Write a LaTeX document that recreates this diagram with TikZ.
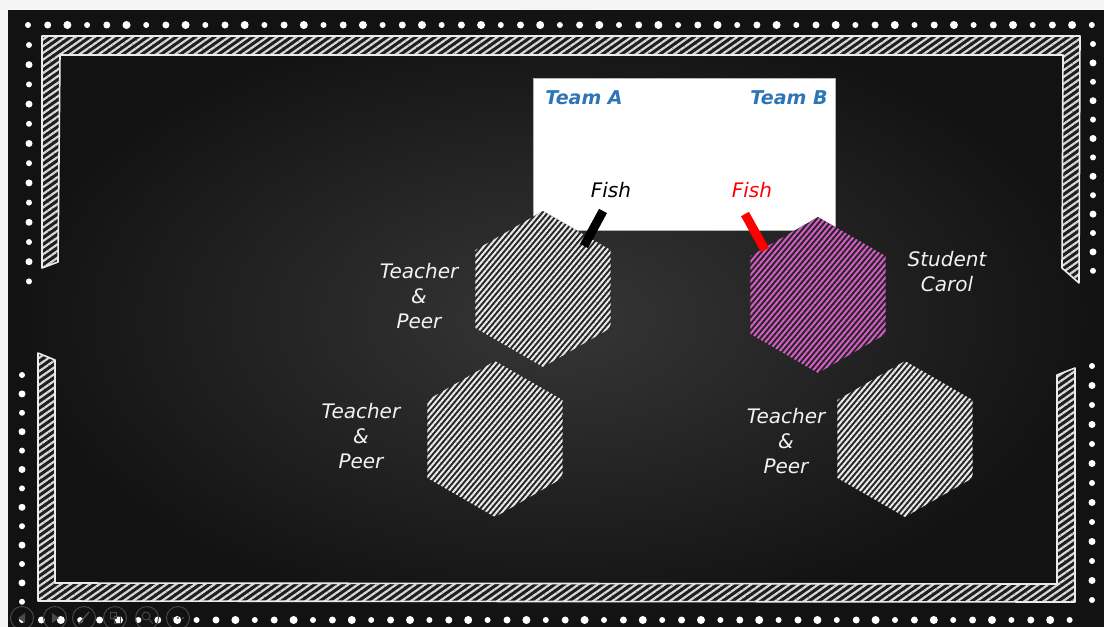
\documentclass[tikz,border=0pt]{standalone}
\usepackage{fontspec}
\setmainfont{DejaVu Sans}
\usetikzlibrary{shapes.geometric,patterns.meta}
\definecolor{teamblue}{HTML}{2E75B6}
\definecolor{hexpink}{HTML}{D85CC8}
\definecolor{hexbg}{HTML}{262626}
\definecolor{bgout}{HTML}{121212}
\definecolor{bgin}{HTML}{363636}
\definecolor{iconcol}{HTML}{4A4A4A}
\tikzset{
  chalk/.style={draw=white!92!black, line width=1.6pt, line join=round,
    preaction={fill=black!88},
    pattern={Lines[angle=35,distance=5.5pt,line width=2.2pt]}, pattern color=white!85!black},
  hexa/.style={regular polygon, regular polygon sides=6, shape border rotate=30,
    minimum size=156pt, inner sep=0pt,
    preaction={fill=hexbg},
    pattern={Lines[angle=50,distance=4.2pt,line width=2pt]}, pattern color=white!92!black},
  hexp/.style={hexa, pattern color=hexpink},
  lbl/.style={text=white!95!black, font=\itshape\fontsize{20}{25}\selectfont, align=center, inner sep=0pt},
  team/.style={text=teamblue, font=\bfseries\itshape\fontsize{19}{20}\selectfont, inner sep=0pt},
  fishlbl/.style={font=\itshape\fontsize{20}{22}\selectfont, inner sep=0pt},
  barstyle/.style={line width=9pt},
  dotstyle/.style={fill=white, draw=none},
  iconring/.style={draw=iconcol, line width=0.9pt, circle, minimum size=23pt, inner sep=0pt}
}
\begin{document}
\begin{tikzpicture}[x=1pt,y=-1pt]
\useasboundingbox (0,0) rectangle (1104,627);
% outer light strips
\fill[white!96!black] (0,0) rectangle (1104,627);
% chalkboard
\shade[inner color=bgin, outer color=bgout] (8,10) rectangle (1104,627);
% dots
\foreach \i in {0,...,54} {
  \pgfmathsetmacro{\r}{3.0+0.5*mod(\i,3)}
  \fill[dotstyle] (28+19.7*\i,25) circle (\r pt);
  \fill[dotstyle] (22+19.4*\i,620) circle (\r pt);
}
\foreach \i in {0,...,12} {
  \pgfmathsetmacro{\r}{3.0+0.5*mod(\i,2)}
  \fill[dotstyle] (29,45+19.7*\i) circle (\r pt);
  \fill[dotstyle] (22,375+18.9*\i) circle (\r pt);
  \fill[dotstyle] (1093,44+18.9*\i) circle (\r pt);
  \fill[dotstyle] (1092,366+19.5*\i) circle (\r pt);
}
% chalk frames
\path[chalk] (42,36) -- (1080,36) -- (1079,283) -- (1062,268) -- (1063,55) -- (60,55)
  -- (58,262) -- (42,268) -- cycle;
\path[chalk] (38,353) -- (55,360) -- (55,583) -- (1057,584) -- (1057,375) -- (1075,368)
  -- (1075,602) -- (38,601) -- cycle;
% presentation icons
\node[iconring] (ic1) at (22,618) {};
\node[iconring] (ic2) at (55,618) {};
\node[iconring] (ic3) at (84,618) {};
\node[iconring] (ic4) at (115,618) {};
\node[iconring] (ic5) at (147,618) {};
\node[iconring] (ic6) at (178,618) {};
\fill[iconcol] (18,618) -- (25,613) -- (25,623) -- cycle;
\fill[iconcol] (59,618) -- (52,613) -- (52,623) -- cycle;
\draw[iconcol, line width=1.5pt] (79,624) -- (89,612);
\draw[iconcol, line width=0.9pt] (110,612) rectangle (116,618) (114,616) rectangle (120,623);
\draw[iconcol, line width=0.9pt] (146,616) circle (4pt) (149,619) -- (153,624);
\fill[iconcol] (173,618) circle (1.2pt) (178,618) circle (1.2pt) (183,618) circle (1.2pt);
% white board
\node[draw=gray!60, fill=white, line width=0.8pt, minimum width=302pt, minimum height=152pt,
  inner sep=0pt] (board) at (684,154) {};
\node[team] (teamA) at (584,98) {Team A};
\node[team] (teamB) at (789,98) {Team B};
\node[fishlbl, text=black] (fishA) at (611,190) {Fish};
\node[fishlbl, text=red] (fishB) at (752,190) {Fish};
% hexagons
\node[hexa] (h1) at (543,289) {};
\node[hexa] (h2) at (495,439) {};
\node[hexp] (h3) at (818,295) {};
\node[hexa] (h4) at (905,439) {};
% fish bars
\coordinate (a1) at (603,211);
\coordinate (a2) at (584,246);
\coordinate (b1) at (745,214);
\coordinate (b2) at (765,250);
\draw[barstyle, black] (a1) -- (a2);
\draw[barstyle, red] (b1) -- (b2);
% labels
\node[lbl] (l1) at (419,296) {Teacher\\\&\\Peer};
\node[lbl] (l2) at (361,436) {Teacher\\\&\\Peer};
\node[lbl] (l4) at (786,441) {Teacher\\\&\\Peer};
\node[lbl] (l3) at (947,272) {Student\\Carol};
\end{tikzpicture}
\end{document}
